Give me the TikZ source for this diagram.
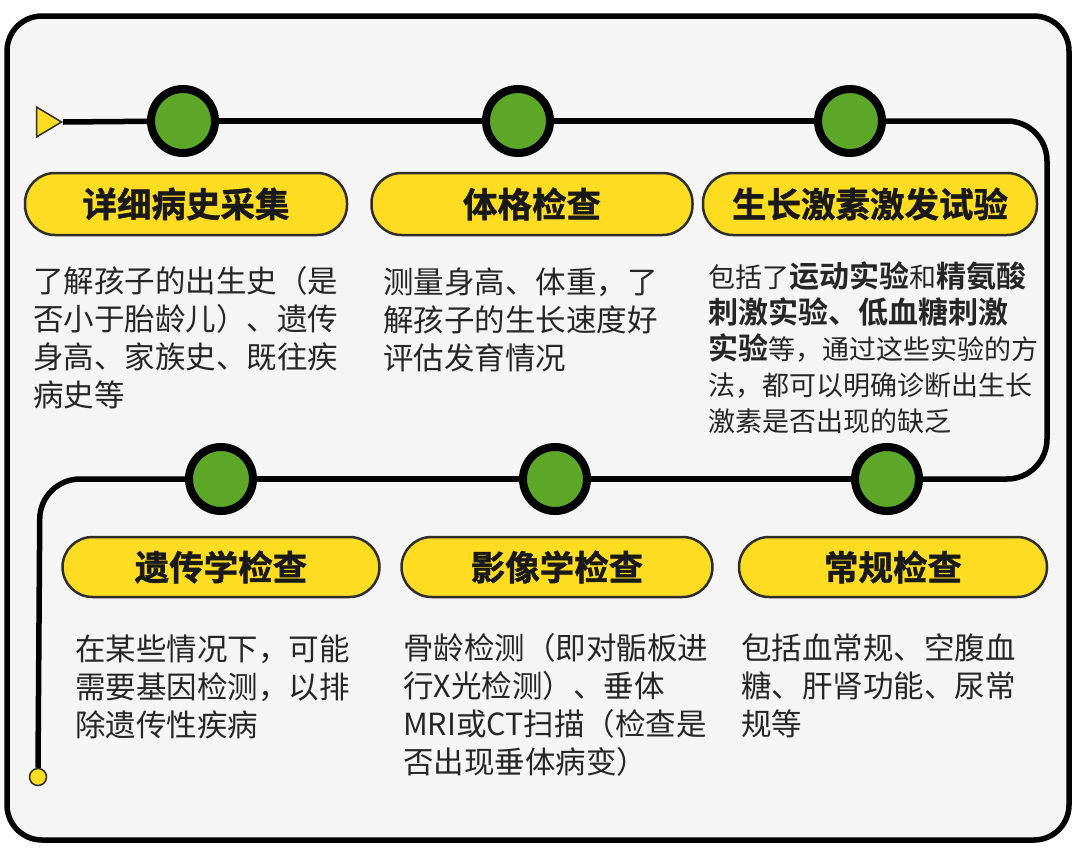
\documentclass[tikz,border=0pt]{standalone}
\usepackage{fontspec}
\setmainfont{Noto Sans CJK SC}[BoldFont={Noto Sans CJK SC Bold}]
\newfontfamily\heavyfont{Noto Sans CJK SC Bold}[FakeBold=1.3]
\usetikzlibrary{shapes.geometric}
\definecolor{panelgray}{HTML}{F5F5F5}
\definecolor{pillyellow}{HTML}{FDDC22}
\definecolor{dotgreen}{HTML}{5CA628}
\definecolor{rim}{HTML}{2E2E2E}
\begin{document}
\begin{tikzpicture}[x=1pt, y=-1pt,
  dot/.style={shape=circle, draw=black, line width=8pt, fill=dotgreen, minimum size=64pt, inner sep=0pt},
  pill/.style={draw=rim, line width=2.5pt, fill=pillyellow, rounded corners=30pt, minimum height=60pt, inner sep=0pt, font=\fontsize{34.5}{40}\heavyfont, text=black!90},
  body/.style={anchor=north west, align=left, inner sep=0pt, text=black!85, font=\fontsize{30.5}{38}\selectfont},
  track/.style={line width=5.5pt, rounded corners=40pt}]
\useasboundingbox (0,0) rectangle (1080,852);
\draw[line width=5.5pt, fill=panelgray, rounded corners=35pt] (7,16) rectangle (1069,840);
% start and end marks
\node[isosceles triangle, isosceles triangle apex angle=62, draw=rim, line width=1.5pt, fill=pillyellow, minimum height=25pt, inner sep=0pt] (start) at (45,122) {};
\node[shape=circle, draw=rim, line width=1.5pt, fill=pillyellow, minimum size=17pt, inner sep=0pt] (stop) at (38,777) {};
% stations
\node[dot] (d1) at (183,121) {};
\node[dot] (d2) at (518,121) {};
\node[dot] (d3) at (850,121) {};
\node[dot] (d4) at (887,479) {};
\node[dot] (d5) at (555,479) {};
\node[dot] (d6) at (221,479) {};
\coordinate (c1) at (1047,121);
\coordinate (c2) at (1047,479);
\coordinate (c3) at (40,479);
\draw[track] (start.east) -- (d1);
\draw[track] (d1) -- (d2);
\draw[track] (d2) -- (d3);
\draw[track] (d3.east) -- (c1) -- (c2) -- (d4.east);
\draw[track] (d4) -- (d5);
\draw[track] (d5) -- (d6);
\draw[track] (d6.west) -- (c3) -- (stop.north);
% titles
\node[pill, minimum width=322pt, minimum height=62pt] (t1) at (186,204) {详细病史采集};
\node[pill, minimum width=321pt, minimum height=62pt] (t2) at (532,204) {体格检查};
\node[pill, minimum width=334pt, minimum height=62pt] (t3) at (870,204) {生长激素激发试验};
\node[pill, minimum width=317pt] (t4) at (221,567) {遗传学检查};
\node[pill, minimum width=311pt] (t5) at (557,567) {影像学检查};
\node[pill, minimum width=308pt] (t6) at (893,567) {常规检查};
% texts
\node[body] (b1) at (33,266) {了解孩子的出生史（是\\否小于胎龄儿）、遗传\\身高、家族史、既往疾\\病史等};
\node[body] (b2) at (383,268) {测量身高、体重，了\\解孩子的生长速度好\\评估发育情况};
\node[body, font=\fontsize{27}{36}\selectfont] (b3) at (708,261) {包括了{\fontsize{30}{36}\selectfont\bfseries 运动实验}和{\fontsize{30}{36}\selectfont\bfseries 精氨酸}\\{\fontsize{30}{36}\selectfont\bfseries 刺激实验、低血糖刺激}\\{\fontsize{30}{36}\selectfont\bfseries 实验}等，通过这些实验的方\\法，都可以明确诊断出生长\\激素是否出现的缺乏};
\node[body] (b4) at (75,635) {在某些情况下，可能\\需要基因检测，以排\\除遗传性疾病};
\node[body] (b5) at (403,633) {骨龄检测（即对骺板进\\行X光检测）、垂体\\MRI或CT扫描（检查是\\否出现垂体病变）};
\node[body] (b6) at (741,633) {包括血常规、空腹血\\糖、肝肾功能、尿常\\规等};
\end{tikzpicture}
\end{document}
